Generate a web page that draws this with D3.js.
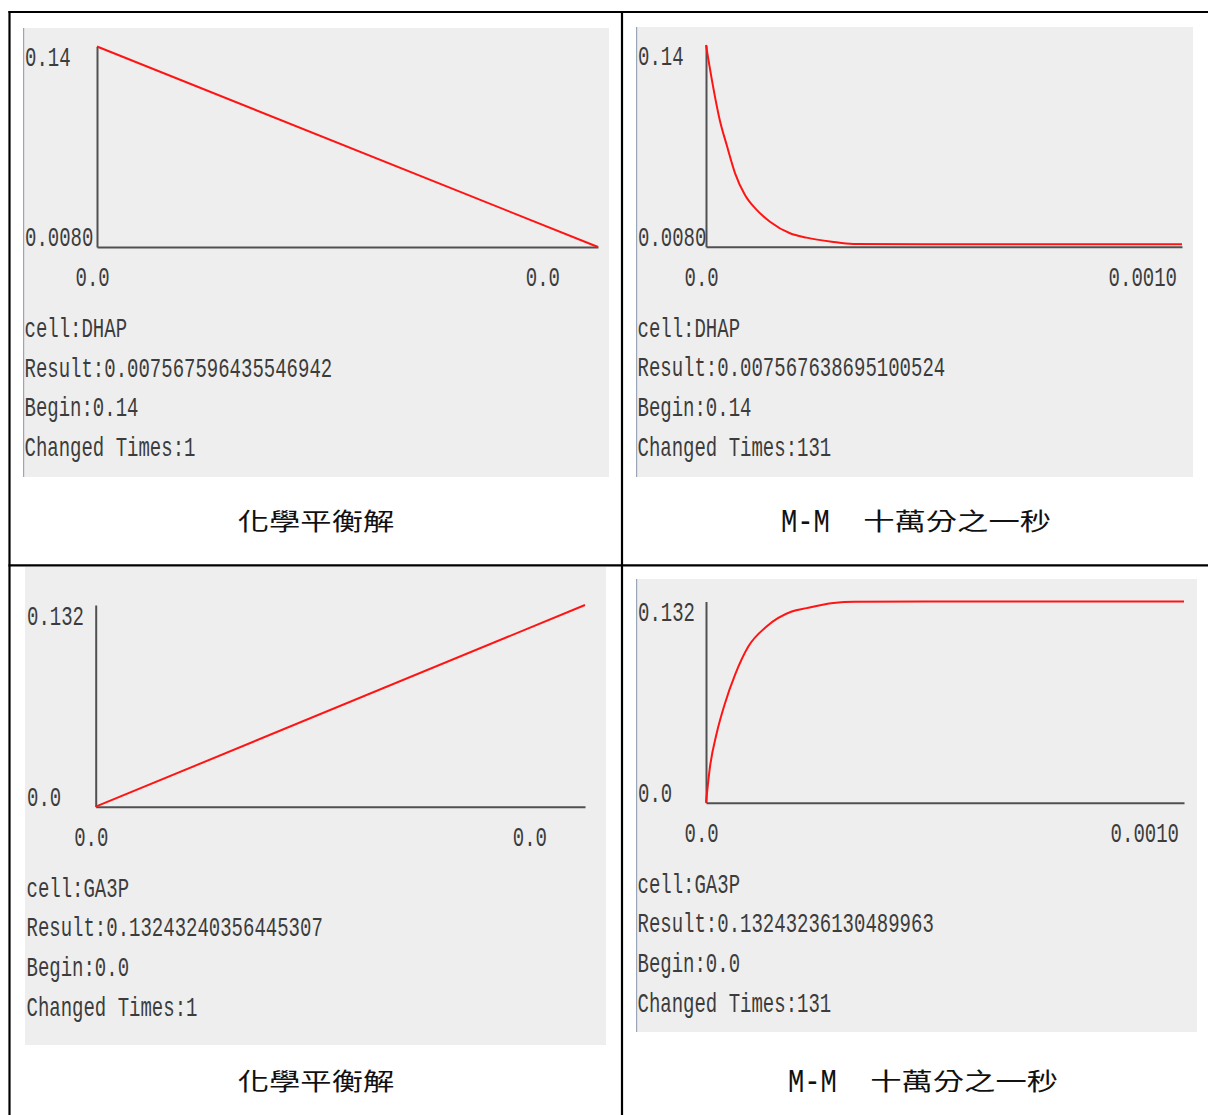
<!DOCTYPE html>
<html>
<head>
<meta charset="utf-8">
<script src="https://cdn.jsdelivr.net/npm/d3@7"></script>
<style>
  html, body { margin: 0; padding: 0; background: #fff; }
  svg { display: block; }
</style>
</head>
<body>
<script>
// Glycolysis cell simulation: DHAP / GA3P concentration over time,
// equilibrium solution (left) vs. Michaelis-Menten stepping at 1e-5 s (right).

const cellNames    = ["DHAP", "DHAP", "GA3P", "GA3P"];
const resultTexts  = ["0.007567596435546942", "0.007567638695100524", "0.13243240356445307", "0.13243236130489963"];
const beginTexts   = ["0.14", "0.14", "0.0", "0.0"];
const changedTimes = [1, 131, 1, 131];
const captions     = ["化學平衡解", "M-M　十萬分之一秒", "化學平衡解", "M-M　十萬分之一秒"];
const yTickLabels  = [["0.14", "0.0080"], ["0.14", "0.0080"], ["0.132", "0.0"], ["0.132", "0.0"]];
const xTickLabels  = [["0.0", "0.0"], ["0.0", "0.0010"], ["0.0", "0.0"], ["0.0", "0.0010"]];

// equilibrium solution: one single change
const eqTime = [0, 0.00001];
const eqDHAP = [0.14, 0.007567596435546942];
const eqGA3P = [0, 0.13243240356445307];

// Michaelis-Menten integration (131 changes)
const mmTimeDHAP = [0, 0.0000157, 0.0000385, 0.000057, 0.0000798, 0.0001073, 0.0001395, 0.0001761,
                    0.0002312, 0.000277, 0.000346, 0.000405, 0.0006, 0.0009, 0.00131];
const mmDHAP     = [0.14, 0.1175, 0.0895, 0.0735, 0.0549, 0.0403, 0.0304, 0.0226,
                    0.0149, 0.0120, 0.0093, 0.0078, 0.00758, 0.007568, 0.007567638695100524];
const mmTimeGA3P = [0, 0.000011, 0.0000293, 0.0000521, 0.0000795, 0.000116, 0.000166, 0.000235,
                    0.000276, 0.000349, 0.000408, 0.0006, 0.0009, 0.00131];
const mmGA3P     = [0, 0.02372, 0.04573, 0.06549, 0.08414, 0.10278, 0.11596, 0.12584,
                    0.12808, 0.13138, 0.13225, 0.13240, 0.132432, 0.13243236130489963];

const seriesTimes  = [eqTime, mmTimeDHAP, eqTime, mmTimeGA3P];
const seriesValues = [eqDHAP, mmDHAP, eqGA3P, mmGA3P];

// ---- layout ----
const W = 1208, H = 1115;
const panels = [
  { bg: [23, 28, 586, 449],  accent: true,  x0: 97,   x1: 598,  top: 46.5,  bottom: 247,   lineBottom: 247,   xEnd: 560,  cap: [316, 521] },
  { bg: [636, 27, 557, 450], accent: true,  x0: 706,  x1: 1182, top: 45,    bottom: 246.7, lineBottom: 244.3, xEnd: 1177, cap: [915, 521] },
  { bg: [25, 567, 581, 478], accent: false, x0: 95.7, x1: 585,  top: 605,   bottom: 806.7, lineBottom: 806.7, xEnd: 547,  cap: [316, 1081] },
  { bg: [636, 579, 561, 453], accent: true, x0: 706,  x1: 1184, top: 601.5, bottom: 802.7, lineBottom: 802.7, xEnd: 1179, cap: [922, 1081] }
];

const MONO = "'Liberation Mono', 'DejaVu Sans Mono', monospace";
const CJK = "'Noto Sans CJK TC', 'Noto Sans CJK SC', sans-serif";
const CHAR_W = 11.4;      // advance of the narrow latin face
const MONO_SIZE = 27.8;   // gives ~18px tall capitals

const svg = d3.select("body").append("svg")
  .attr("width", W).attr("height", H)
  .attr("viewBox", `0 0 ${W} ${H}`);

// narrow latin text: drawn at half width-scale via a transform so each
// character takes a fixed advance
function mono(g, x, y, str, anchor = "start", size = MONO_SIZE, cw = CHAR_W) {
  const sx = cw / (0.6 * size);
  return g.append("text")
    .attr("transform", `translate(${x},${y}) scale(${sx},1)`)
    .attr("text-anchor", anchor)
    .attr("font-family", MONO)
    .attr("font-size", size)
    .attr("fill", "#3c3c3c")
    .text(str);
}

panels.forEach((p, i) => {
  const g = svg.append("g");
  const [bx, by, bw, bh] = p.bg;

  g.append("rect").attr("x", bx).attr("y", by).attr("width", bw).attr("height", bh).attr("fill", "#eeeeee");
  if (p.accent) {
    g.append("rect").attr("x", bx).attr("y", by).attr("width", 1.2).attr("height", bh).attr("fill", "#9aa6b8");
  }

  const t = seriesTimes[i], v = seriesValues[i];
  const x = d3.scaleLinear().domain(d3.extent(t)).range([p.x0, p.x1]);
  const y = d3.scaleLinear().domain(d3.extent(v)).range([p.lineBottom, p.top]);
  const yAxisScale = d3.scaleLinear().domain(d3.extent(v)).range([p.bottom, p.top]);

  // axes: bare lines, no ticks
  const xAxis = g.append("g").attr("transform", `translate(0,${p.bottom})`)
    .call(d3.axisBottom(x).tickValues([]).tickSizeOuter(0));
  const yAxis = g.append("g").attr("transform", `translate(${p.x0},0)`)
    .call(d3.axisLeft(yAxisScale).tickValues([]).tickSizeOuter(0));
  [xAxis, yAxis].forEach(a => a.select(".domain").attr("stroke", "#505050").attr("stroke-width", 2));

  // series
  const pts = t.map((tt, k) => [tt, v[k]]);
  g.append("path")
    .datum(pts)
    .attr("fill", "none")
    .attr("stroke", "#ff1414")
    .attr("stroke-width", 2)
    .attr("d", d3.line().curve(d3.curveMonotoneX).x(d => x(d[0])).y(d => y(d[1])));

  // axis labels
  const lx = bx + 2;
  mono(g, lx, p.top + 19.5, yTickLabels[i][0]);
  mono(g, lx, p.bottom - 1, yTickLabels[i][1]);
  mono(g, p.x0 - 21.5, p.bottom + 39, xTickLabels[i][0]);
  mono(g, p.xEnd, p.bottom + 39, xTickLabels[i][1], "end");

  // info block
  const infoLines = [
    "cell:" + cellNames[i],
    "Result:" + resultTexts[i],
    "Begin:" + beginTexts[i],
    "Changed Times:" + changedTimes[i]
  ];
  infoLines.forEach((s, k) => mono(g, bx + 1.5, p.bottom + 90 + 39.6 * k, s));

  // caption below the chart
  const cap = captions[i];
  const parts = cap.split("　");
  const [cx, cy] = p.cap;
  const CJK_W = 31.3;
  if (parts.length === 1) {
    const len = cap.length * CJK_W;
    g.append("text")
      .attr("x", cx - len / 2).attr("y", cy + 9)
      .attr("font-family", CJK).attr("font-size", 24).attr("fill", "#111")
      .attr("textLength", len).attr("lengthAdjust", "spacingAndGlyphs")
      .text(cap);
  } else {
    const latLen = parts[0].length * 16.3;
    const cjkLen = parts[1].length * CJK_W;
    const total = latLen + CJK_W + cjkLen;
    const sx = cx - total / 2;
    mono(g, sx, cy + 11, parts[0], "start", 33, 16.3).attr("fill", "#111");
    g.append("text")
      .attr("x", sx + latLen + CJK_W + 2).attr("y", cy + 9)
      .attr("font-family", CJK).attr("font-size", 24).attr("fill", "#111")
      .attr("textLength", cjkLen).attr("lengthAdjust", "spacingAndGlyphs")
      .text(parts[1]);
  }
});

// table rules
const rules = svg.append("g").attr("stroke", "#000").attr("stroke-width", 2.2);
rules.append("line").attr("x1", 8.5).attr("x2", W).attr("y1", 12).attr("y2", 12);
rules.append("line").attr("x1", 9.5).attr("x2", 9.5).attr("y1", 11).attr("y2", H);
rules.append("line").attr("x1", 622).attr("x2", 622).attr("y1", 11).attr("y2", H);
rules.append("line").attr("x1", 8.5).attr("x2", W).attr("y1", 565.3).attr("y2", 565.3);
</script>
</body>
</html>
